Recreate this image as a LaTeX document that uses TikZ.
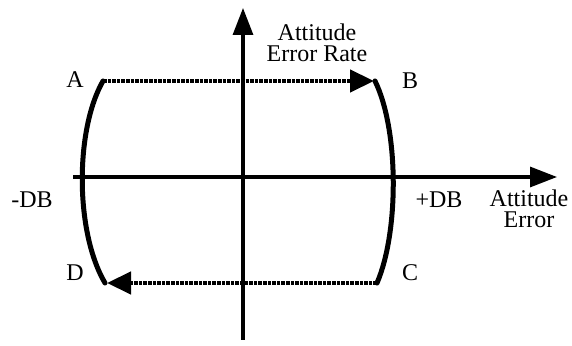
\documentclass[tikz,border=0pt]{standalone}
\usepackage{fontspec}
\setmainfont{Liberation Serif}
\usetikzlibrary{arrows.meta}
\tikzset{
  axis/.style={line width=1.6pt, -{Triangle[length=13.5pt, width=10pt]}},
  switchline/.style={line width=2.5pt, line cap=round, line join=round},
  coastline/.style={line width=2.2pt, dash pattern=on 1.8pt off 0.5pt, -{Triangle[length=12pt, width=11pt]}},
  lbl/.style={font=\fontsize{12}{10.5}\selectfont, align=center, inner sep=0pt}
}
\begin{document}
\begin{tikzpicture}[x=0.5pt, y=-0.5pt]
\useasboundingbox (0,0) rectangle (572,346);
% axes
\coordinate (xstart) at (73,177);
\coordinate (xend) at (557,177);
\coordinate (ystart) at (243,340);
\coordinate (yend) at (243,8);
\draw[axis] (xstart) -- (xend);
\draw[axis] (ystart) -- (yend);
% corners
\coordinate (pA) at (103,81);
\coordinate (pB) at (375,81);
\coordinate (pC) at (377,283);
\coordinate (pD) at (105,283);
\coordinate (tipB) at (374,81);
\coordinate (tipD) at (107,283);
% switching curves
\draw[switchline] (pA) .. controls (75,130) and (75,232) .. (pD);
\draw[switchline] (pB) .. controls (399,130) and (399,232) .. (pC);
% coasting lines
\draw[coastline] (pA) -- (tipB);
\draw[coastline] (pC) -- (tipD);
% labels
\node[lbl] (labA) at (75,80) {A};
\node[lbl] (labB) at (410,81) {B};
\node[lbl] (labC) at (410,273) {C};
\node[lbl] (labD) at (75,273) {D};
\node[lbl] (mdb) at (32,200) {-DB};
\node[lbl] (pdb) at (439,200) {+DB};
\node[lbl] (xlab) at (529,209) {Attitude\\Error};
\node[lbl] (ylab) at (317,43) {Attitude\\Error Rate};
\end{tikzpicture}
\end{document}
